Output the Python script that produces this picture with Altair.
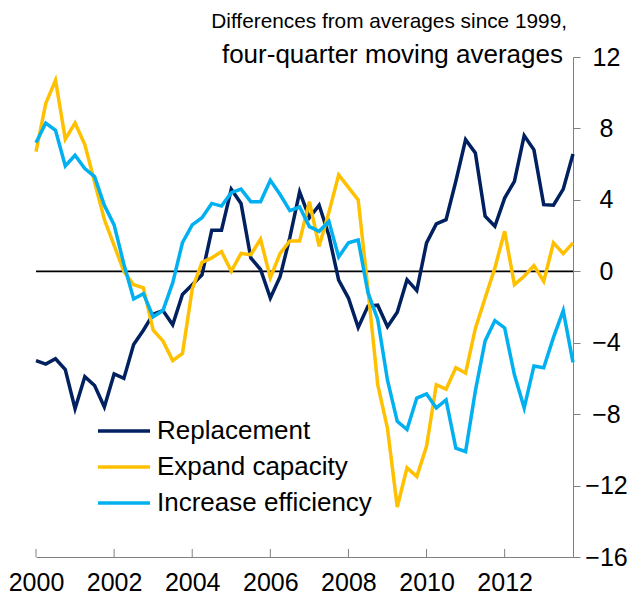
import altair as alt
import pandas as pd

# Quarterly observations, 2000 Q1 to 2013 Q4
start_year = 2000
n_quarters = 56

replacement = [
    -5.0, -5.2, -4.9, -5.5, -7.7, -5.9, -6.4, -7.6, -5.75, -6.0,
    -4.1, -3.3, -2.4, -2.2, -3.0, -1.3, -0.75, -0.2, 2.3, 2.3,
    4.6, 3.8, 0.75, 0.1, -1.5, -0.3, 1.9, 4.45, 3.0, 3.7,
    2.0, -0.5, -1.5, -3.15, -1.95, -1.9, -3.1, -2.3, -0.47, -1.08,
    1.59, 2.65, 2.89, 5.04, 7.37, 6.63, 3.08, 2.52, 4.1, 5.04,
    7.6, 6.8, 3.73, 3.7, 4.6, 6.57,
]
expand_capacity = [
    6.7, 9.4, 10.7, 7.4, 8.3, 7.1, 5.0, 2.9, 1.45, 0.0,
    -0.75, -0.93, -3.3, -3.9, -5.0, -4.6, -1.0, 0.5, 0.75, 1.1,
    0.0, 1.0, 0.93, 1.8, -0.37, 1.0, 1.7, 1.7, 3.9, 1.4,
    3.3, 5.4, 4.7, 4.0, -1.0, -6.35, -8.8, -13.2, -11.0, -11.5,
    -9.8, -6.35, -6.6, -5.4, -5.7, -3.2, -1.5, 0.19, 2.24, -0.75,
    -0.28, 0.32, -0.56, 1.59, 0.99, 1.59,
]
increase_efficiency = [
    7.2, 8.3, 7.9, 5.9, 6.5, 5.75, 5.3, 3.7, 2.6, 0.4,
    -1.55, -1.25, -2.55, -2.2, -0.65, 1.6, 2.6, 3.0, 3.8, 3.65,
    4.4, 4.6, 3.9, 3.9, 5.1, 4.3, 3.4, 3.6, 2.5, 2.24,
    2.8, 0.8, 1.6, 1.75, -1.2, -2.7, -6.1, -8.4, -8.86, -7.1,
    -6.87, -7.65, -7.2, -9.9, -10.1, -6.7, -3.9, -2.76, -3.17, -5.8,
    -7.65, -5.3, -5.4, -3.7, -2.2, -5.1,
]

series_names = ["Replacement", "Expand capacity", "Increase efficiency"]
series_colors = ["#002060", "#FFC000", "#00B0F0"]
x_tick_values = [2000, 2002, 2004, 2006, 2008, 2010, 2012]
y_tick_values = [-16, -12, -8, -4, 0, 4, 8, 12]
title_lines = ["Differences from averages since 1999,", "four-quarter moving averages"]

dates = [start_year + 0.25 * i for i in range(n_quarters)]
rows = []
for k, (name, vals) in enumerate(zip(series_names, [replacement, expand_capacity, increase_efficiency])):
    for d, v in zip(dates, vals):
        rows.append({"date": d, "value": v, "series": name, "k": k})
df = pd.DataFrame(rows)
legend_df = pd.DataFrame({"series": series_names})

FONT = "Liberation Sans"
AXIS_GRAY = "#808080"
TXT = 26
TICK_TXT = 25

color_scale = alt.Scale(domain=series_names, range=series_colors)

x_enc = alt.X(
    "date:Q",
    scale=alt.Scale(domain=[2000, 2013.75], nice=False, zero=False),
    axis=alt.Axis(
        values=x_tick_values, format="d", tickSize=0, labelFontSize=TICK_TXT,
        labelPadding=13, title=None, grid=False, labelFlush=False,
        domainColor=AXIS_GRAY, labelColor="black", labelFont=FONT,
    ),
)
y_enc = alt.Y(
    "value:Q",
    scale=alt.Scale(domain=[-16, 12], nice=False, zero=False),
    axis=alt.Axis(
        orient="right", values=y_tick_values, tickSize=7, labelFontSize=TICK_TXT,
        labelAlign="center", labelPadding=26, title=None, grid=False,
        domainColor=AXIS_GRAY, tickColor=AXIS_GRAY, labelColor="black",
        labelFont=FONT,
    ),
)

lines = alt.Chart(df).mark_line(strokeWidth=3.5).encode(
    x=x_enc,
    y=y_enc,
    color=alt.Color("series:N", scale=color_scale, legend=None),
    order=alt.Order("date:Q"),
)

zero_line = alt.Chart(pd.DataFrame({"v": [0]})).mark_rule(
    color="black", strokeWidth=1.8
).encode(y=alt.Y("v:Q"))

x_ticks = alt.Chart(pd.DataFrame({"t": x_tick_values})).mark_rule(
    color=AXIS_GRAY, strokeWidth=1
).encode(x=alt.X("t:Q"), y=alt.datum(-16), y2=alt.datum(-15.55))

main = alt.layer(zero_line, x_ticks, lines)

# Legend drawn inside the plot area
leg_y = alt.Y(
    "series:N", sort=series_names,
    scale=alt.Scale(type="point", domain=series_names, range=[374, 446], padding=0),
    axis=None,
)
leg_rule = alt.Chart(legend_df).mark_rule(strokeWidth=3.5).encode(
    x=alt.value(62), x2=alt.value(114), y=leg_y,
    color=alt.Color("series:N", scale=color_scale, legend=None),
)
leg_text = alt.Chart(legend_df).mark_text(
    align="left", baseline="middle", fontSize=TXT, font=FONT, color="black"
).encode(x=alt.value(121), y=leg_y, text="series:N")
legend = alt.layer(leg_rule, leg_text)

title1 = alt.Chart(pd.DataFrame({"t": [title_lines[0]]})).mark_text(
    align="right", baseline="alphabetic", fontSize=20.8, font=FONT, color="black"
).encode(text="t:N", x=alt.value(531), y=alt.value(-29))
title2 = alt.Chart(pd.DataFrame({"t": [title_lines[1]]})).mark_text(
    align="right", baseline="alphabetic", fontSize=TXT, font=FONT, color="black"
).encode(text="t:N", x=alt.value(527), y=alt.value(6))

chart = alt.layer(main, legend, title1, title2).resolve_scale(
    y="independent"
).properties(
    width=537, height=500,
    padding={"left": 28, "top": 49, "right": 54, "bottom": 37},
    autosize=alt.AutoSizeParams(type="none"),
).configure_view(stroke=None)

chart.save("out.html", embed_options={"renderer": "svg", "actions": False})
